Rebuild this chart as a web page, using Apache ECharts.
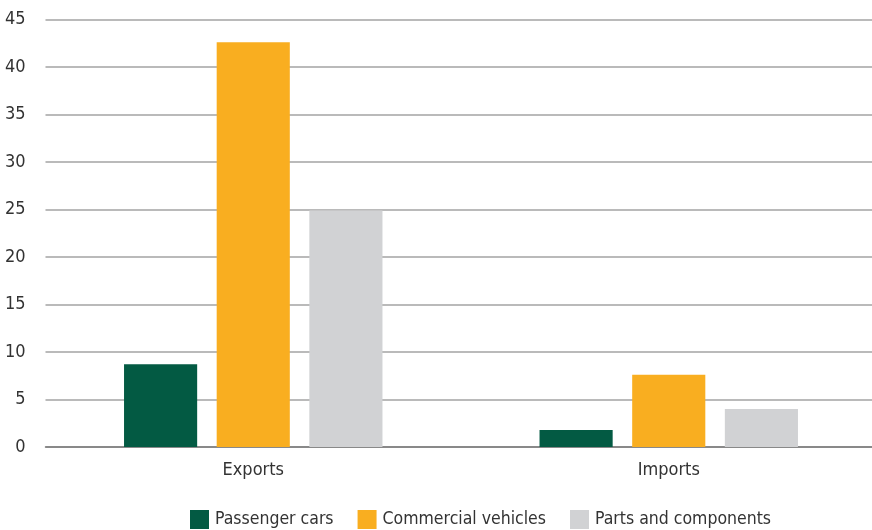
<!DOCTYPE html>
<html>
<head>
<meta charset="utf-8">
<script src="https://cdn.jsdelivr.net/npm/echarts@6/dist/echarts.min.js"></script>
<style>
  html, body { margin: 0; padding: 0; background: #ffffff; overflow: hidden; }
  /* plot area runs a few pixels past the right edge of the page */
  #chart { width: 880px; height: 530px; }
</style>
</head>
<body>
<div id="chart"></div>
<script>
// Trade flows by category
const categories = ['Exports', 'Imports'];
const seriesNames = ['Passenger cars', 'Commercial vehicles', 'Parts and components'];
const passengerCars = [8.7, 1.8];
const commercialVehicles = [42.6, 7.6];
const partsAndComponents = [24.9, 4.0];
const yTicks = [0, 5, 10, 15, 20, 25, 30, 35, 40, 45];

const FONT = '"Liberation Sans Narrow", "DejaVu Sans Condensed", sans-serif';
const colors = ['#035a43', '#f9ae20', '#d1d2d4'];
const values = [passengerCars, commercialVehicles, partsAndComponents];

const chart = echarts.init(document.getElementById('chart'), null, { renderer: 'canvas' });

chart.setOption({
  animation: false,
  textStyle: { fontFamily: FONT },
  grid: { left: 45.5, right: 3.5, top: 19.5, bottom: 83, containLabel: false },
  legend: {
    data: seriesNames,
    top: 510,
    left: 190,
    itemWidth: 19,
    itemHeight: 19,
    itemGap: 24,
    icon: 'rect',
    textStyle: { fontFamily: FONT, fontSize: 17.5, color: '#333333', padding: [0, 0, 0, 1] },
    padding: 0
  },
  xAxis: {
    type: 'category',
    data: categories,
    axisLine: { show: true, lineStyle: { color: '#7a7a7a', width: 1.5 } },
    axisTick: { show: false },
    axisLabel: { fontFamily: FONT, fontSize: 18, color: '#333333', margin: 14 }
  },
  yAxis: {
    type: 'value',
    min: yTicks[0],
    max: yTicks[yTicks.length - 1],
    interval: 5,
    axisLine: { show: false },
    axisTick: { show: false },
    axisLabel: { fontFamily: FONT, fontSize: 18, color: '#333333', margin: 20 },
    splitLine: { lineStyle: { color: '#a3a3a3', width: 1.5 } }
  },
  series: seriesNames.map((name, i) => ({
    name: name,
    type: 'bar',
    data: values[i],
    barWidth: '17.6%',
    barGap: '26.7%',
    itemStyle: { color: colors[i] }
  }))
});
</script>
</body>
</html>
